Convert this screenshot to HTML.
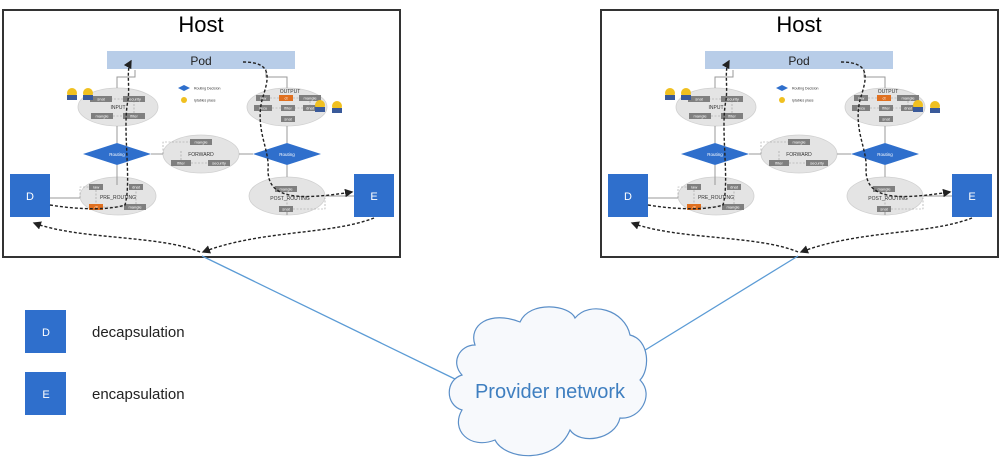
<!DOCTYPE html>
<html><head><meta charset="utf-8"><style>
html,body{margin:0;padding:0;background:#fff;}
svg{display:block;font-family:"Liberation Sans",sans-serif;}
.b{fill:#7f7f7f;}
.bt{fill:#fff;font-size:4px;text-anchor:middle;}
.el{fill:#e4e4e4;stroke:#d0d0d0;stroke-width:0.8;}
.gl{stroke:#999;stroke-width:1;fill:none;}
.gd{stroke:#999;stroke-width:0.6;fill:none;stroke-dasharray:2 1.5;}
.pk{stroke:#222;stroke-width:1.4;fill:none;stroke-dasharray:3 2;}
.lab{font-size:5px;fill:#333;text-anchor:middle;}
</style></head><body>
<svg width="1000" height="465" viewBox="0 0 1000 465">
<defs>
<marker id="ah" markerWidth="6" markerHeight="6" refX="5" refY="3" orient="auto"><path d="M0,0 L6,3 L0,6 z" fill="#222"/></marker>
</defs>

<g id="h1">
<rect x="3" y="10" width="397" height="247" fill="#fff" stroke="#333" stroke-width="2"/>
<text x="201" y="32" font-size="22" text-anchor="middle" fill="#000">Host</text>
<rect x="107" y="51" width="188" height="18" fill="#b8cde8"/>
<text x="201" y="65" font-size="12" text-anchor="middle" fill="#222">Pod</text>
<!-- ellipses -->
<ellipse class="el" cx="118" cy="107" rx="40" ry="19"/>
<ellipse class="el" cx="287" cy="107" rx="40" ry="19"/>
<ellipse class="el" cx="201" cy="154" rx="38" ry="19"/>
<ellipse class="el" cx="118" cy="196" rx="38" ry="19"/>
<ellipse class="el" cx="287" cy="196" rx="38" ry="19"/>
<!-- grey connectors -->
<path class="gl" d="M117,143 V126 M117,88 V77 H135 V70 M266,69 V77 H287 V88 M287,126 V143 M117,185 V165 M151,154 H163 M239,154 H253 M287,165 V177 M50,198 H80 M325,196 H354 M287,215 V212"/>
<!-- diamonds -->
<path d="M83,154 L117,143 L151,154 L117,165 z" fill="#2f6fcc"/>
<text x="117" y="156" font-size="4.5" fill="#fff" text-anchor="middle">Routing</text>
<path d="M253,154 L287,143 L321,154 L287,165 z" fill="#2f6fcc"/>
<text x="287" y="156" font-size="4.5" fill="#fff" text-anchor="middle">Routing</text>
<!-- INPUT boxes -->
<rect class="b" x="90" y="96" width="22" height="6"/><text class="bt" x="101" y="100.5">snat</text>
<rect class="b" x="123" y="96" width="22" height="6"/><text class="bt" x="134" y="100.5">security</text>
<text class="lab" x="118" y="109">INPUT</text>
<rect class="b" x="91" y="113" width="22" height="6"/><text class="bt" x="102" y="117.5">mangle</text>
<rect class="b" x="123" y="113" width="22" height="6"/><text class="bt" x="134" y="117.5">filter</text>
<path class="gd" d="M113,116 H123 M134,113 V102 M123,99 H112"/>
<!-- OUTPUT -->
<rect class="b" x="256" y="95" width="14" height="6"/><text class="bt" x="263" y="99.5">raw</text>
<rect class="b" x="279" y="95" width="14" height="6" fill="#e07020" style="fill:#e07020"/><text class="bt" x="286" y="99.5">ct</text>
<rect class="b" x="299" y="95" width="22" height="6"/><text class="bt" x="310" y="99.5">mangle</text>
<text class="lab" x="290" y="93">OUTPUT</text>
<rect class="b" x="254" y="105" width="18" height="6"/><text class="bt" x="263" y="109.5">secu</text>
<rect class="b" x="281" y="105" width="14" height="6"/><text class="bt" x="288" y="109.5">filter</text>
<rect class="b" x="303" y="105" width="14" height="6"/><text class="bt" x="310" y="109.5">dnat</text>
<rect class="b" x="281" y="116" width="14" height="6"/><text class="bt" x="288" y="120.5">snat</text>
<path class="gd" d="M270,98 H279 M293,98 H299 M310,101 V105 M303,108 H295 M281,108 H272"/>
<!-- FORWARD -->
<rect class="b" x="190" y="139" width="22" height="6"/><text class="bt" x="201" y="143.5">mangle</text>
<text class="lab" x="201" y="156">FORWARD</text>
<rect class="b" x="171" y="160" width="20" height="6"/><text class="bt" x="181" y="164.5">filter</text>
<rect class="b" x="208" y="160" width="22" height="6"/><text class="bt" x="219" y="164.5">security</text>
<path class="gd" d="M191,163 H208 M163,154 V142 H190 M181,160 V150"/>
<!-- PRE_ROUTING -->
<rect class="b" x="89" y="184" width="14" height="6"/><text class="bt" x="96" y="188.5">raw</text>
<rect class="b" x="129" y="184" width="14" height="6"/><text class="bt" x="136" y="188.5">dnat</text>
<text class="lab" x="118" y="199">PRE_ROUTING</text>
<rect x="89" y="204" width="14" height="6" fill="#e07020"/><text class="bt" x="96" y="208.5">ct</text>
<rect class="b" x="124" y="204" width="22" height="6"/><text class="bt" x="135" y="208.5">mangle</text>
<path class="gd" d="M80,198 V187 H89 M96,190 V204 M103,207 H124 M136,204 V190"/>
<!-- POST_ROUTING -->
<rect class="b" x="275" y="186" width="22" height="6"/><text class="bt" x="286" y="190.5">mangle</text>
<text class="lab" x="290" y="200">POST_ROUTING</text>
<rect class="b" x="279" y="206" width="14" height="6"/><text class="bt" x="286" y="210.5">snat</text>
<path class="gd" d="M287,192 V206 M293,209 H325 V198"/>
<!-- legend -->
<path d="M178,88 L184,85 L190,88 L184,91 z" fill="#2f6fcc"/>
<text x="194" y="89.5" font-size="3.5" fill="#333">Routing Decision</text>
<circle cx="184" cy="100" r="3" fill="#f0c020"/>
<text x="194" y="101.5" font-size="3.5" fill="#333">Iptables place</text>
<!-- minions -->
<circle cx="72" cy="93" r="5" fill="#f0c020"/><rect x="67" y="95" width="10" height="5" fill="#3a5a9a"/>
<circle cx="88" cy="93" r="5" fill="#f0c020"/><rect x="83" y="95" width="10" height="5" fill="#3a5a9a"/>
<circle cx="320" cy="105" r="5" fill="#f0c020"/><rect x="315" y="107" width="10" height="5" fill="#3a5a9a"/>
<circle cx="337" cy="106" r="5" fill="#f0c020"/><rect x="332" y="108" width="10" height="5" fill="#3a5a9a"/>
<!-- D / E -->
<rect x="10" y="174" width="40" height="43" fill="#2f6fcc"/><text x="30" y="200" font-size="11" fill="#fff" text-anchor="middle">D</text>
<rect x="354" y="174" width="40" height="43" fill="#2f6fcc"/><text x="374" y="200" font-size="11" fill="#fff" text-anchor="middle">E</text>
<!-- packet paths -->
<path class="pk" marker-end="url(#ah)" d="M50,205 C80,210 110,210 125,205 C132,180 122,130 128,100 C130,85 126,70 131,61"/>
<path class="pk" marker-end="url(#ah)" d="M243,62 C275,62 268,80 262,100 C255,130 270,150 268,170 C268,200 300,200 352,192"/>
<path class="pk" marker-end="url(#ah)" d="M374,218 C330,235 260,230 203,252"/>
<path class="pk" marker-end="url(#ah)" d="M200,252 C160,235 80,240 34,223"/>
</g>

<g id="h2" transform="translate(598,0)">
<rect x="3" y="10" width="397" height="247" fill="#fff" stroke="#333" stroke-width="2"/>
<text x="201" y="32" font-size="22" text-anchor="middle" fill="#000">Host</text>
<rect x="107" y="51" width="188" height="18" fill="#b8cde8"/>
<text x="201" y="65" font-size="12" text-anchor="middle" fill="#222">Pod</text>
<ellipse class="el" cx="118" cy="107" rx="40" ry="19"/>
<ellipse class="el" cx="287" cy="107" rx="40" ry="19"/>
<ellipse class="el" cx="201" cy="154" rx="38" ry="19"/>
<ellipse class="el" cx="118" cy="196" rx="38" ry="19"/>
<ellipse class="el" cx="287" cy="196" rx="38" ry="19"/>
<path class="gl" d="M117,143 V126 M117,88 V77 H135 V70 M266,69 V77 H287 V88 M287,126 V143 M117,185 V165 M151,154 H163 M239,154 H253 M287,165 V177 M50,198 H80 M325,196 H354 M287,215 V212"/>
<path d="M83,154 L117,143 L151,154 L117,165 z" fill="#2f6fcc"/>
<text x="117" y="156" font-size="4.5" fill="#fff" text-anchor="middle">Routing</text>
<path d="M253,154 L287,143 L321,154 L287,165 z" fill="#2f6fcc"/>
<text x="287" y="156" font-size="4.5" fill="#fff" text-anchor="middle">Routing</text>
<rect class="b" x="90" y="96" width="22" height="6"/><text class="bt" x="101" y="100.5">snat</text>
<rect class="b" x="123" y="96" width="22" height="6"/><text class="bt" x="134" y="100.5">security</text>
<text class="lab" x="118" y="109">INPUT</text>
<rect class="b" x="91" y="113" width="22" height="6"/><text class="bt" x="102" y="117.5">mangle</text>
<rect class="b" x="123" y="113" width="22" height="6"/><text class="bt" x="134" y="117.5">filter</text>
<path class="gd" d="M113,116 H123 M134,113 V102 M123,99 H112"/>
<rect class="b" x="256" y="95" width="14" height="6"/><text class="bt" x="263" y="99.5">raw</text>
<rect x="279" y="95" width="14" height="6" fill="#e07020"/><text class="bt" x="286" y="99.5">ct</text>
<rect class="b" x="299" y="95" width="22" height="6"/><text class="bt" x="310" y="99.5">mangle</text>
<text class="lab" x="290" y="93">OUTPUT</text>
<rect class="b" x="254" y="105" width="18" height="6"/><text class="bt" x="263" y="109.5">secu</text>
<rect class="b" x="281" y="105" width="14" height="6"/><text class="bt" x="288" y="109.5">filter</text>
<rect class="b" x="303" y="105" width="14" height="6"/><text class="bt" x="310" y="109.5">dnat</text>
<rect class="b" x="281" y="116" width="14" height="6"/><text class="bt" x="288" y="120.5">snat</text>
<path class="gd" d="M270,98 H279 M293,98 H299 M310,101 V105 M303,108 H295 M281,108 H272"/>
<rect class="b" x="190" y="139" width="22" height="6"/><text class="bt" x="201" y="143.5">mangle</text>
<text class="lab" x="201" y="156">FORWARD</text>
<rect class="b" x="171" y="160" width="20" height="6"/><text class="bt" x="181" y="164.5">filter</text>
<rect class="b" x="208" y="160" width="22" height="6"/><text class="bt" x="219" y="164.5">security</text>
<path class="gd" d="M191,163 H208 M163,154 V142 H190 M181,160 V150"/>
<rect class="b" x="89" y="184" width="14" height="6"/><text class="bt" x="96" y="188.5">raw</text>
<rect class="b" x="129" y="184" width="14" height="6"/><text class="bt" x="136" y="188.5">dnat</text>
<text class="lab" x="118" y="199">PRE_ROUTING</text>
<rect x="89" y="204" width="14" height="6" fill="#e07020"/><text class="bt" x="96" y="208.5">ct</text>
<rect class="b" x="124" y="204" width="22" height="6"/><text class="bt" x="135" y="208.5">mangle</text>
<path class="gd" d="M80,198 V187 H89 M96,190 V204 M103,207 H124 M136,204 V190"/>
<rect class="b" x="275" y="186" width="22" height="6"/><text class="bt" x="286" y="190.5">mangle</text>
<text class="lab" x="290" y="200">POST_ROUTING</text>
<rect class="b" x="279" y="206" width="14" height="6"/><text class="bt" x="286" y="210.5">snat</text>
<path class="gd" d="M287,192 V206 M293,209 H325 V198"/>
<path d="M178,88 L184,85 L190,88 L184,91 z" fill="#2f6fcc"/>
<text x="194" y="89.5" font-size="3.5" fill="#333">Routing Decision</text>
<circle cx="184" cy="100" r="3" fill="#f0c020"/>
<text x="194" y="101.5" font-size="3.5" fill="#333">Iptables place</text>
<circle cx="72" cy="93" r="5" fill="#f0c020"/><rect x="67" y="95" width="10" height="5" fill="#3a5a9a"/>
<circle cx="88" cy="93" r="5" fill="#f0c020"/><rect x="83" y="95" width="10" height="5" fill="#3a5a9a"/>
<circle cx="320" cy="105" r="5" fill="#f0c020"/><rect x="315" y="107" width="10" height="5" fill="#3a5a9a"/>
<circle cx="337" cy="106" r="5" fill="#f0c020"/><rect x="332" y="108" width="10" height="5" fill="#3a5a9a"/>
<rect x="10" y="174" width="40" height="43" fill="#2f6fcc"/><text x="30" y="200" font-size="11" fill="#fff" text-anchor="middle">D</text>
<rect x="354" y="174" width="40" height="43" fill="#2f6fcc"/><text x="374" y="200" font-size="11" fill="#fff" text-anchor="middle">E</text>
<path class="pk" marker-end="url(#ah)" d="M50,205 C80,210 110,210 125,205 C132,180 122,130 128,100 C130,85 126,70 131,61"/>
<path class="pk" marker-end="url(#ah)" d="M243,62 C275,62 268,80 262,100 C255,130 270,150 268,170 C268,200 300,200 352,192"/>
<path class="pk" marker-end="url(#ah)" d="M374,218 C330,235 260,230 203,252"/>
<path class="pk" marker-end="url(#ah)" d="M200,252 C160,235 80,240 34,223"/>
</g>

<!-- network lines -->
<line x1="202" y1="256" x2="457" y2="380" stroke="#5b9bd5" stroke-width="1.3"/>
<line x1="798" y1="256" x2="642" y2="352" stroke="#5b9bd5" stroke-width="1.3"/>
<!-- cloud -->
<path d="M475,345 C468,325 490,310 520,322 C530,300 570,305 575,318 C590,300 625,310 630,335 C650,340 650,370 640,380 C655,395 640,420 620,418 C615,440 580,445 570,430 C555,465 505,460 495,440 C470,450 450,430 462,410 C445,405 445,380 462,375 C450,362 460,345 475,345 z" fill="#f7f9fc" stroke="#5b8fc8" stroke-width="1.2"/>
<text x="550" y="398" font-size="20" fill="#3f7fc0" text-anchor="middle">Provider network</text>

<!-- legend -->
<rect x="25" y="310" width="41" height="43" fill="#2f6fcc"/><text x="46" y="336" font-size="11" fill="#fff" text-anchor="middle">D</text>
<text x="92" y="337" font-size="15" fill="#222">decapsulation</text>
<rect x="25" y="372" width="41" height="43" fill="#2f6fcc"/><text x="46" y="398" font-size="11" fill="#fff" text-anchor="middle">E</text>
<text x="92" y="399" font-size="15" fill="#222">encapsulation</text>
</svg>
</body></html>
